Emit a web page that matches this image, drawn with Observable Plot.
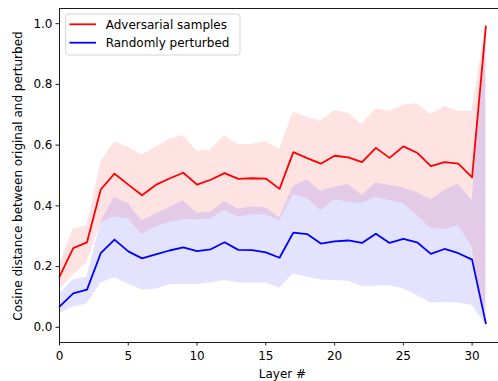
<!DOCTYPE html>
<html><head><meta charset="utf-8">
<script src="https://cdn.jsdelivr.net/npm/d3@7"></script>
<script src="https://cdn.jsdelivr.net/npm/@observablehq/plot@0.6"></script>
<style>html,body{margin:0;padding:0;background:#fff;overflow:hidden}</style>
</head><body><div id="chart"></div>
<script>
const layers = [0,1,2,3,4,5,6,7,8,9,10,11,12,13,14,15,16,17,18,19,20,21,22,23,24,25,26,27,28,29,30,31];
const advMean = [0.167,0.261,0.280,0.454,0.506,0.470,0.435,0.469,0.490,0.509,0.470,0.486,0.508,0.489,0.491,0.490,0.456,0.577,0.557,0.539,0.565,0.560,0.544,0.591,0.558,0.596,0.575,0.531,0.544,0.539,0.494,0.991];
const advLo   = [0.124,0.172,0.212,0.345,0.363,0.357,0.306,0.330,0.346,0.354,0.354,0.357,0.385,0.363,0.371,0.371,0.352,0.436,0.426,0.384,0.420,0.412,0.409,0.428,0.418,0.407,0.368,0.326,0.322,0.335,0.264,0.010];
const advHi   = [0.207,0.325,0.334,0.544,0.610,0.593,0.568,0.593,0.619,0.632,0.580,0.585,0.631,0.602,0.602,0.612,0.586,0.709,0.692,0.679,0.714,0.705,0.668,0.720,0.712,0.731,0.736,0.700,0.727,0.712,0.712,1.000];
const randMean = [0.068,0.112,0.124,0.244,0.289,0.250,0.227,0.240,0.253,0.263,0.251,0.257,0.280,0.255,0.254,0.247,0.229,0.312,0.307,0.276,0.283,0.286,0.278,0.308,0.278,0.291,0.280,0.242,0.258,0.244,0.223,0.013];
const randLo   = [0.045,0.067,0.077,0.146,0.163,0.143,0.123,0.125,0.140,0.141,0.141,0.146,0.154,0.146,0.146,0.146,0.129,0.176,0.165,0.156,0.154,0.152,0.135,0.135,0.137,0.126,0.104,0.080,0.082,0.080,0.072,0.008];
const randHi   = [0.110,0.157,0.165,0.347,0.428,0.407,0.351,0.373,0.395,0.417,0.376,0.379,0.414,0.390,0.396,0.394,0.362,0.464,0.486,0.448,0.461,0.470,0.434,0.475,0.467,0.459,0.445,0.420,0.451,0.472,0.418,0.970];

const xTicks = [0,5,10,15,20,25,30];
const yTicks = [0.0,0.2,0.4,0.6,0.8,1.0];
const seriesNames = ["Adversarial samples","Randomly perturbed"];
const seriesColors = ["red","blue"];
const xLabel = "Layer #";
const yLabel = "Cosine distance between original and perturbed";
const xDomain = [0, 31.92];
const yDomain = [-0.05, 1.05];

const rows = layers.map((layer, i) => ({
  layer,
  advMean: advMean[i], advLo: advLo[i], advHi: advHi[i],
  randMean: randMean[i], randLo: randLo[i], randHi: randHi[i]
}));

const font = "DejaVu Sans";
const plot = Plot.plot({
  width: 498, height: 381,
  marginLeft: 59, marginRight: 0, marginTop: 8, marginBottom: 39,
  style: {fontFamily: font, fontSize: "12px", background: "white", color: "black"},
  x: {domain: xDomain},
  y: {domain: yDomain},
  marks: [
    Plot.areaY(rows, {x: "layer", y1: "advLo", y2: "advHi", fill: seriesColors[0], fillOpacity: 0.11}),
    Plot.areaY(rows, {x: "layer", y1: "randLo", y2: "randHi", fill: seriesColors[1], fillOpacity: 0.11}),
    Plot.lineY(rows, {x: "layer", y: "advMean", stroke: seriesColors[0], strokeWidth: 1.8}),
    Plot.lineY(rows, {x: "layer", y: "randMean", stroke: seriesColors[1], strokeWidth: 1.8}),
    Plot.ruleX([xDomain[0]], {stroke: "black", strokeWidth: 0.9}),
    Plot.ruleY([yDomain[0]], {stroke: "black", strokeWidth: 0.9}),
    Plot.ruleY([yDomain[1]], {stroke: "black", strokeWidth: 0.9}),
    Plot.axisX({ticks: xTicks, tickSize: 3.5, tickPadding: 5, label: null, fontSize: 12, strokeWidth: 0.9}),
    Plot.axisY({ticks: yTicks, tickSize: 3.5, tickPadding: 3.5, label: null, fontSize: 12, strokeWidth: 0.9,
                tickFormat: d3.format(".1f")})
  ]
});
document.getElementById("chart").append(plot);

const svg = d3.select(plot);
// axis titles
svg.append("text").attr("x", 282.5).attr("y", 377.8).attr("text-anchor", "middle")
  .attr("font-family", font).attr("font-size", 12).attr("fill", "black").text(xLabel);
svg.append("text").attr("transform", "translate(22.3,176) rotate(-90)").attr("text-anchor", "middle")
  .attr("font-family", font).attr("font-size", 12).attr("fill", "black").text(yLabel);

// legend
const lg = svg.append("g").attr("text-anchor", "start");
lg.append("rect").attr("x", 65.7).attr("y", 14).attr("width", 174.3).attr("height", 41)
  .attr("rx", 2.5).attr("fill", "white").attr("fill-opacity", 0.8)
  .attr("stroke", "#d0d0d0").attr("stroke-width", 0.9);
seriesNames.forEach((name, i) => {
  const cy = 24.3 + i * 18.4;
  lg.append("line").attr("x1", 69.5).attr("x2", 96).attr("y1", cy).attr("y2", cy)
    .attr("stroke", seriesColors[i]).attr("stroke-width", 1.8);
  lg.append("text").attr("x", 105.7).attr("y", cy + 4.4).attr("text-anchor", "start")
    .attr("font-family", font).attr("font-size", 12).attr("fill", "black").text(name);
});
</script>
</body></html>
